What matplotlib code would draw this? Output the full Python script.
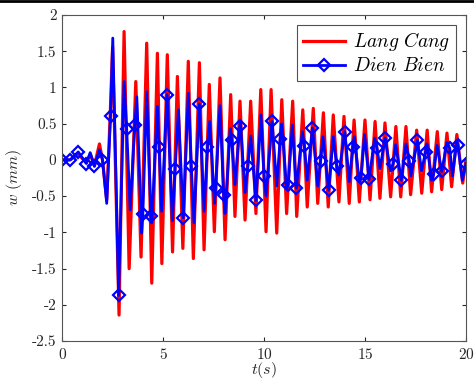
import numpy as np
import matplotlib.pyplot as plt
from matplotlib.lines import Line2D

# Lang Cang (red): quiet start, then peaks / troughs
red_pre_t = [0.0, 0.4, 0.8, 1.2, 1.4, 1.6, 1.85, 2.0, 2.21, 2.38, 2.5]
red_pre_w = [0.0, 0.0, 0.08, -0.04, 0.08, -0.08, 0.22, 0.0, -0.55, 0.6, 1.55]
red_peak_t = [3.07, 3.65, 4.19, 4.72, 5.21, 5.71, 6.25, 6.80, 7.29, 7.82, 8.35,
              8.81, 9.34, 9.84, 10.35, 10.88, 11.42, 11.92, 12.44, 12.94, 13.43,
              13.96, 14.46, 15.0, 15.5, 15.99, 16.53, 17.03, 17.56, 18.08, 18.58,
              19.06, 19.55, 20.0]
red_peak_w = [1.77, 1.08, 1.61, 1.47, 1.45, 1.15, 1.36, 1.34, 1.04, 1.13, 0.90,
              0.81, 0.81, 0.97, 0.97, 0.83, 0.81, 0.69, 0.71, 0.65, 0.62,
              0.60, 0.55, 0.55, 0.53, 0.51, 0.46, 0.46, 0.41, 0.41, 0.39,
              0.37, 0.35, 0.0]
red_trough_t = [2.82, 3.32, 3.91, 4.44, 4.94, 5.47, 5.98, 6.50, 7.03, 7.54, 8.07,
                8.56, 9.06, 9.60, 10.10, 10.63, 11.12, 11.62, 12.14, 12.66, 13.18,
                13.71, 14.22, 14.72, 15.25, 15.74, 16.27, 16.77, 17.26, 17.81,
                18.30, 18.80, 19.29, 19.84]
red_trough_w = [-2.14, -1.50, -1.34, -1.70, -1.43, -1.27, -1.22, -1.36, -1.24, -0.99, -1.10,
                -0.78, -0.83, -0.74, -0.99, -1.01, -0.74, -0.78, -0.65, -0.60, -0.65,
                -0.58, -0.60, -0.58, -0.55, -0.53, -0.51, -0.51, -0.48, -0.46,
                -0.44, -0.41, -0.37, -0.32]

# Dien Bien (blue) - turning points between the markers
blue_ext_t = [1.39, 1.85, 2.21, 2.51, 3.07, 3.37, 3.70, 3.94, 4.19, 4.44, 4.72,
              4.93, 5.46, 5.76, 6.25, 6.53, 7.03, 7.31, 7.55, 7.82, 8.07, 8.33,
              8.56, 8.83, 9.06, 9.34, 9.85, 10.10, 10.63, 10.88, 11.12, 11.40,
              11.90, 12.14, 12.66, 12.92, 13.43, 13.70, 14.22, 14.47, 14.72,
              14.98, 15.48, 15.74, 16.26, 16.52, 17.03, 17.27, 17.80, 18.07,
              18.30, 18.57, 19.06, 19.33, 19.55, 19.82]
blue_ext_w = [0.10, 0.14, -0.60, 1.68, 1.08, -0.69, 0.87, -1.01, 0.94, -0.87, 0.74,
              -0.71, -0.84, 0.69, 0.92, -0.87, -0.71, 0.53, -0.60, 0.75, -0.74, 0.43,
              -0.34, 0.52, -0.45, 0.33, 0.62, -0.50, -0.36, 0.50, -0.40, 0.48,
              0.39, -0.28, -0.36, 0.32, 0.32, -0.21, -0.30, 0.32, -0.30,
              0.35, 0.30, -0.12, -0.15, 0.21, 0.22, -0.22, -0.15, 0.22,
              -0.28, 0.20, 0.24, -0.22, 0.25, -0.28]
# marked samples, every 0.4 s
blue_mark_t = [0.0, 0.4, 0.8, 1.2, 1.6, 2.0, 2.4, 2.8, 3.2, 3.6, 4.0, 4.4, 4.8,
               5.2, 5.6, 6.0, 6.4, 6.8, 7.2, 7.6, 8.0, 8.4, 8.8, 9.2, 9.6, 10.0,
               10.4, 10.8, 11.2, 11.6, 12.0, 12.4, 12.8, 13.2, 13.6, 14.0, 14.4,
               14.8, 15.2, 15.6, 16.0, 16.4, 16.8, 17.2, 17.6, 18.0, 18.4, 18.8,
               19.2, 19.6, 20.0]
blue_mark_w = [0.0, 0.0, 0.11, -0.05, -0.09, 0.0, 0.61, -1.87, 0.42, 0.48, -0.74, -0.78, 0.18,
               0.90, -0.13, -0.80, -0.09, 0.77, 0.18, -0.39, -0.49, 0.27, 0.47, -0.09, -0.56, -0.22,
               0.53, 0.29, -0.34, -0.39, 0.19, 0.44, -0.02, -0.42, -0.08, 0.39, 0.18,
               -0.25, -0.27, 0.16, 0.30, -0.05, -0.28, -0.02, 0.27, 0.11, -0.20, -0.16,
               0.16, 0.21, -0.05]

plt.rcParams['mathtext.fontset'] = 'cm'
plt.rcParams['axes.formatter.use_mathtext'] = True
plt.rcParams['font.family'] = 'serif'
plt.rcParams['font.serif'] = ['cmr10', 'DejaVu Serif']
plt.rcParams['axes.unicode_minus'] = False

# merge the red pieces in time order
rt = np.concatenate([red_pre_t, red_peak_t, red_trough_t])
rw = np.concatenate([red_pre_w, red_peak_w, red_trough_w])
o = np.argsort(rt, kind='stable')
rt, rw = rt[o], rw[o]

# merge blue turning points and marked samples
bt = np.concatenate([blue_ext_t, blue_mark_t])
bw = np.concatenate([blue_ext_w, blue_mark_w])
o = np.argsort(bt, kind='stable')
bt, bw = bt[o], bw[o]
mark_idx = list(np.where(o >= len(blue_ext_t))[0])

fig = plt.figure(figsize=(4.74, 3.82), dpi=100)
ax = fig.add_axes([0.131, 0.107, 0.852, 0.854])

ax.plot(rt, rw, color='red', lw=2.3, label='$Lang\\ Cang$')
ax.plot(bt, bw, color='blue', lw=2.0, marker='D', markersize=6.3,
        markerfacecolor='none', markeredgewidth=1.6, markevery=mark_idx,
        label='$Dien\\ Bien$')

ax.set_xlim(0, 20)
ax.set_ylim(-2.5, 2)
ax.set_xticks([0, 5, 10, 15, 20])
ax.set_yticks(np.arange(-2.5, 2.01, 0.5))
ax.set_yticklabels(['-2.5', '-2', '-1.5', '-1', '-0.5', '0', '0.5', '1', '1.5', '2'])
ax.tick_params(direction='in', top=True, right=True, length=3, width=0.8,
               labelsize=11, colors='#262626', pad=4)
for s in ax.spines.values():
    s.set_color('#555555')
    s.set_linewidth(0.8)

ax.set_xlabel('$t(s)$', fontsize=11.5, color='#262626', labelpad=-1)
ax.set_ylabel('$w\\ (mm)$', fontsize=11.5, color='#262626', labelpad=6)

leg = ax.legend(loc='upper right', fontsize=14, frameon=True, fancybox=False,
                edgecolor='#262626', borderaxespad=0.5, handlelength=2.2,
                borderpad=0.3, labelspacing=0.2, handletextpad=0.4)
leg.get_frame().set_linewidth(0.8)

# dark band at the very top of the image
fig.add_artist(Line2D([0, 1], [0.997, 0.997], transform=fig.transFigure,
                      color='black', lw=2))

fig.savefig('out.png', dpi=100)
